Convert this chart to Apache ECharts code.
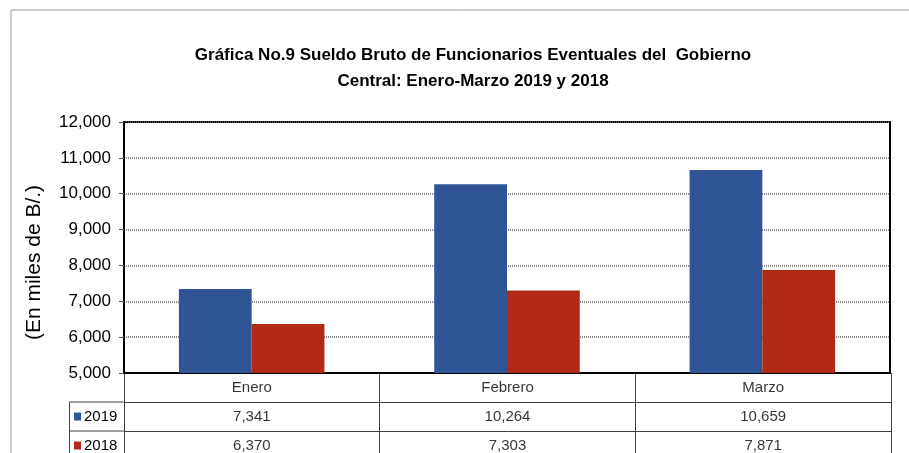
<!DOCTYPE html>
<html>
<head>
    <meta charset="utf-8">
    <script type="text/javascript" src="https://cdn.jsdelivr.net/npm/echarts@6/dist/echarts.min.js"></script>
</head>
<body style="margin: 0; background: #fff">
    <div id="container" style="height: 453px; width: 909px;"></div>
    <script type="text/javascript">
    // data
    var months = ['Enero', 'Febrero', 'Marzo'];
    var years = ['2019', '2018'];
    var values2019 = [7341, 10264, 10659];
    var values2018 = [6370, 7303, 7871];
    var yMin = 5000, yMax = 12000, yStep = 1000;

    var blue = '#2F5597';
    var red = '#B02A15';
    var lineCol = '#404040';

    // layout
    var plotLeft = 124, plotRight = 19, plotTop = 122, plotBottom = 373;
    var rowH = 29;
    var legendLeft = 69;

    function fmt(v) {
        return v.toLocaleString('en-US');
    }

    // table cells: header row + one row per year
    var rows = [''].concat(years);
    var cells = [];
    months.forEach(function (m, i) {
        cells.push({ value: [m, ''], label: { formatter: m } });
        cells.push({ value: [m, '2019'], label: { formatter: fmt(values2019[i]) } });
        cells.push({ value: [m, '2018'], label: { formatter: fmt(values2018[i]) } });
    });

    var dom = document.getElementById('container');
    var myChart = echarts.init(dom);
    var option = {
        animation: false,
        backgroundColor: '#fff',
        textStyle: { fontFamily: 'Arial, Liberation Sans, sans-serif' },
        title: {
            text: 'Gráfica No.9 Sueldo Bruto de Funcionarios Eventuales del  Gobierno\nCentral: Enero-Marzo 2019 y 2018',
            left: 468,
            top: 37,
            textAlign: 'center',
            textStyle: {
                fontFamily: 'Liberation Sans Narrow, Arial Narrow, sans-serif',
                fontSize: 17,
                fontWeight: 'bold',
                color: '#000',
                lineHeight: 26
            }
        },
        grid: [{
            show: true,
            left: plotLeft,
            right: plotRight,
            top: plotTop,
            height: plotBottom - plotTop,
            borderColor: '#000',
            borderWidth: 2,
            outerBoundsMode: 'none'
        }, {
            left: plotLeft,
            right: plotRight - 1,
            top: plotBottom,
            height: rowH * 3,
            outerBoundsMode: 'none'
        }],
        xAxis: [{
            type: 'category',
            data: months,
            gridIndex: 0,
            axisLine: { lineStyle: { color: '#000', width: 2 } },
            axisTick: { show: false },
            axisLabel: { show: false }
        }, {
            type: 'category',
            data: months,
            gridIndex: 1,
            axisLine: { show: false },
            axisTick: { show: false },
            axisLabel: { show: false },
            splitLine: { show: true, interval: 0, lineStyle: { color: lineCol, width: 1 } }
        }],
        yAxis: [{
            type: 'value',
            gridIndex: 0,
            min: yMin,
            max: yMax,
            interval: yStep,
            name: '(En miles de B/.)',
            nameLocation: 'middle',
            nameGap: 79,
            nameTextStyle: { fontSize: 21, color: '#000', padding: [0, 30, 0, 0] },
            axisLine: { show: true, lineStyle: { color: '#000', width: 2 } },
            axisTick: { show: true, length: 5, lineStyle: { color: '#555' } },
            axisLabel: {
                fontSize: 17,
                color: '#000',
                margin: 13,
                formatter: function (v) { return fmt(v); }
            },
            splitLine: { show: true, lineStyle: { color: '#666', type: [1, 1], width: 1.5 } }
        }, {
            type: 'category',
            data: rows,
            gridIndex: 1,
            inverse: true,
            axisLine: { show: true, lineStyle: { color: lineCol, width: 1 } },
            axisTick: { show: false },
            splitLine: { show: true, interval: 0, lineStyle: { color: lineCol, width: 1 } },
            axisLabel: {
                align: 'left',
                margin: 50,
                fontSize: 15,
                color: '#000',
                formatter: function (v, i) {
                    if (!v) return '';
                    return '{sq' + (i - 1) + '|}{t|' + v + '}';
                },
                rich: {
                    sq0: { width: 7, height: 8, backgroundColor: blue },
                    sq1: { width: 7, height: 8, backgroundColor: red },
                    t: { fontSize: 15, color: '#000', padding: [0, 0, 0, 3] }
                }
            }
        }],
        series: [{
            name: years[0],
            type: 'bar',
            data: values2019,
            barGap: 0,
            barCategoryGap: '43%',
            itemStyle: { color: blue }
        }, {
            name: years[1],
            type: 'bar',
            data: values2018,
            barGap: 0,
            barCategoryGap: '43%',
            itemStyle: { color: red }
        }, {
            type: 'scatter',
            xAxisIndex: 1,
            yAxisIndex: 1,
            symbolSize: 0,
            silent: true,
            clip: false,
            data: cells,
            label: {
                show: true,
                position: 'inside',
                fontSize: 15,
                color: '#000'
            }
        }],
        graphic: [{
            type: 'rect',
            shape: { x: 11, y: 10, width: 920, height: 480 },
            style: { fill: null, stroke: '#9a9a9a', lineWidth: 1 },
            silent: true,
            z: -1
        }, {
            type: 'polyline',
            shape: {
                points: [[plotLeft, plotBottom + rowH], [legendLeft + 0.5, plotBottom + rowH],
                         [legendLeft + 0.5, plotBottom + rowH * 3]]
            },
            style: { fill: null, stroke: lineCol, lineWidth: 1 },
            silent: true
        }, {
            type: 'line',
            shape: { x1: legendLeft, y1: plotBottom + rowH * 2, x2: plotLeft, y2: plotBottom + rowH * 2 },
            style: { stroke: lineCol, lineWidth: 1 },
            silent: true
        }]
    };
    myChart.setOption(option);
    </script>
</body>
</html>
